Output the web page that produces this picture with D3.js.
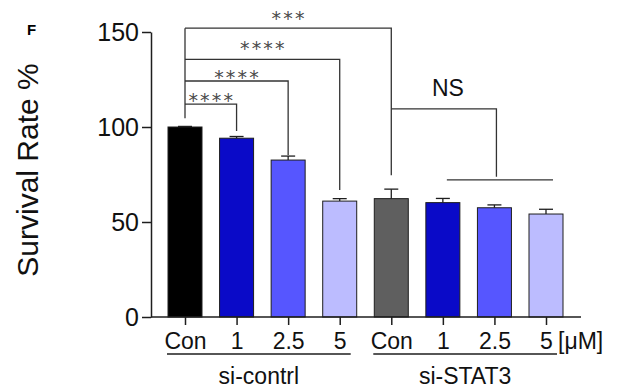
<!DOCTYPE html>
<html>
<head>
<meta charset="utf-8">
<script src="https://cdn.jsdelivr.net/npm/d3@7"></script>
<style>
  html, body { margin: 0; padding: 0; background: #fff; }
  svg { display: block; font-family: "Liberation Sans", Arial, sans-serif; }
</style>
</head>
<body>
<svg id="chart" width="619" height="389"></svg>
<script>
// ---- data ----
const categories = ["Con", "1", "2.5", "5", "Con", "1", "2.5", "5"];
const groups = ["si-contrl", "si-STAT3"];
const groupOf = [0, 0, 0, 0, 1, 1, 1, 1];
const values = [100, 94.1, 82.6, 61.0, 62.3, 60.2, 57.5, 54.2];
const errors = [0.3, 0.9, 2.1, 1.3, 5.0, 2.2, 1.5, 2.5];
const colors = ["#000000", "#0a0ac8", "#5656ff", "#bcbcff", "#5f5f5f", "#0a0ac8", "#5656ff", "#bcbcff"];
const yTicks = [0, 50, 100, 150];
const unitLabel = "[\u03bcM]";
// significance brackets (from bar 0 to target bar)
const sigTargets = [1, 2, 3, 4];
const sigLabels = ["****", "****", "****", "***"];
const sigLevels = [112, 124.2, 135.6, 152];
const sigEnds = [97.9, 85.3, 66.8, 74.6];
const sigStart = 104.6;
const sigLabelLevels = [116.3, 128.4, 143.5, 159.3];
// NS bracket
const nsLabel = "NS";
const nsFrom = 4, nsGroup = [5, 6, 7];
const nsLevel = 109.5, nsEnd = 73.8, nsBase = 72.2, nsLabelLevel = 121;

// ---- layout ----
const svg = d3.select("#chart");
const axisX = 151, axisY = 317, axisRight = 581;
const y = d3.scaleLinear().domain([0, 150]).range([317, 32]);
const x = d3.scalePoint().domain(d3.range(categories.length)).range([185, 546]);
const barW = 34;
const ink = "#1e1e1e";

// bars
svg.append("g").selectAll("rect").data(values).join("rect")
  .attr("x", (d, i) => x(i) - barW / 2)
  .attr("y", d => y(d))
  .attr("width", barW)
  .attr("height", d => y(0) - y(d))
  .attr("fill", (d, i) => colors[i])
  .attr("stroke", ink).attr("stroke-width", 1);

// error bars (upper only)
const eg = svg.append("g").attr("stroke", ink).attr("stroke-width", 1.3);
values.forEach((v, i) => {
  eg.append("line").attr("x1", x(i)).attr("x2", x(i)).attr("y1", y(v)).attr("y2", y(v + errors[i]));
  eg.append("line").attr("x1", x(i) - 7).attr("x2", x(i) + 7).attr("y1", y(v + errors[i])).attr("y2", y(v + errors[i]));
});

// y axis
const yAxis = svg.append("g").attr("transform", `translate(${axisX},0)`)
  .call(d3.axisLeft(y).tickValues(yTicks).tickSize(9).tickPadding(3).tickSizeOuter(0));
yAxis.select(".domain").attr("stroke", ink).attr("stroke-width", 1.5);
yAxis.selectAll(".tick line").attr("stroke", ink).attr("stroke-width", 1.5);
yAxis.selectAll(".tick text").attr("font-size", 25).attr("fill", "#111")
  .attr("font-family", "Liberation Sans, Arial, sans-serif").attr("dy", "0.34em");

// x axis
const xAxis = svg.append("g").attr("transform", `translate(0,${axisY})`)
  .call(d3.axisBottom(x).tickFormat(i => categories[i]).tickSize(8).tickPadding(8).tickSizeOuter(0));
xAxis.select(".domain").attr("d", `M${axisX},0H${axisRight}`).attr("stroke", ink).attr("stroke-width", 1.5);
xAxis.selectAll(".tick line").attr("stroke", ink).attr("stroke-width", 1.5);
xAxis.selectAll(".tick text").attr("font-size", 23).attr("fill", "#111")
  .attr("font-family", "Liberation Sans, Arial, sans-serif");

// unit label
svg.append("text").attr("x", 558).attr("y", 349).attr("font-size", 23).attr("fill", "#111")
  .text(unitLabel);

// group underlines + labels
groups.forEach((g, gi) => {
  const idx = d3.range(categories.length).filter(i => groupOf[i] === gi);
  const x0 = x(idx[0]) - 18, x1 = x(idx[idx.length - 1]) + 11;
  svg.append("line").attr("x1", x0).attr("x2", x1).attr("y1", 354).attr("y2", 354)
    .attr("stroke", ink).attr("stroke-width", 1.5);
  svg.append("text").attr("x", (x0 + x1) / 2).attr("y", 384).attr("text-anchor", "middle")
    .attr("font-size", 23).attr("fill", "#111").text(g);
});

// y title
svg.append("text").attr("transform", "translate(38,170) rotate(-90)")
  .attr("text-anchor", "middle").attr("font-size", 30).attr("fill", "#111")
  .text("Survival Rate %");

// panel letter
svg.append("text").attr("x", 27).attr("y", 35).attr("font-size", 15)
  .attr("font-weight", "bold").attr("fill", "#000").text("F");

// significance brackets
const bg = svg.append("g").attr("stroke", "#333").attr("stroke-width", 1.3).attr("fill", "none");
const topLevel = d3.max(sigLevels);
bg.append("line").attr("x1", x(0)).attr("x2", x(0)).attr("y1", y(sigStart)).attr("y2", y(topLevel));
sigTargets.forEach((t, k) => {
  bg.append("path").attr("d", `M${x(0)},${y(sigLevels[k])}H${x(t)}V${y(sigEnds[k])}`);
  svg.append("text").attr("x", (x(0) + x(t)) / 2 + 1).attr("y", y(sigLabelLevels[k]) + 11)
    .attr("text-anchor", "middle").attr("font-size", 19)
    .attr("font-family", "DejaVu Sans, sans-serif").attr("letter-spacing", 2.2)
    .attr("fill", "#4a4a4a")
    .text(sigLabels[k]);
});
// NS bracket
const nsMid = (x(nsGroup[0]) + x(nsGroup[nsGroup.length - 1])) / 2 + 2;
bg.append("path").attr("d", `M${x(nsFrom)},${y(nsLevel)}H${nsMid}V${y(nsEnd)}`);
bg.append("line").attr("x1", x(nsGroup[0]) + 4).attr("x2", x(nsGroup[nsGroup.length - 1]) + 7)
  .attr("y1", y(nsBase)).attr("y2", y(nsBase));
svg.append("text").attr("x", (x(nsFrom) + nsMid) / 2 + 4).attr("y", y(nsLabelLevel) + 8.5)
  .attr("text-anchor", "middle").attr("font-size", 23).attr("fill", "#111").text(nsLabel);
</script>
</body>
</html>
